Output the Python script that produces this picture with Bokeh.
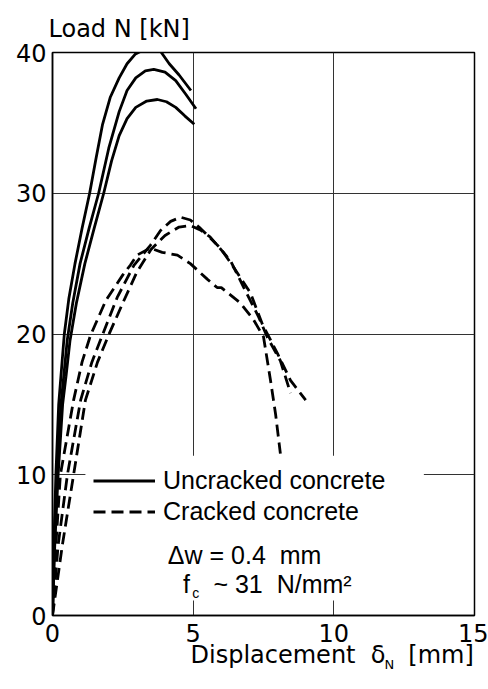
from bokeh.plotting import figure
from bokeh.models import Range1d, FixedTicker, Label, Legend, LegendItem, BoxAnnotation, Title
from bokeh.embed import file_html
from bokeh.resources import INLINE

# ---- data (displacement mm, load kN) ----
unc_top_x = [0, 0.05, 0.12, 0.22, 0.3, 0.42, 0.58, 0.8, 1.05, 1.32, 1.55, 1.78, 2.05, 2.37, 2.65, 2.95, 3.3, 3.55, 3.85, 4.15, 4.5, 4.92]
unc_top_y = [0, 5, 10, 15, 17, 20, 22.5, 25, 27.5, 30, 32.5, 34.9, 36.8, 38.2, 39.2, 39.9, 40.25, 40.3, 40.05, 39.2, 38.4, 37.3]

unc_mid_x = [0, 0.06, 0.16, 0.3, 0.4, 0.52, 0.72, 0.98, 1.3, 1.64, 2.0, 2.37, 2.65, 2.96, 3.3, 3.6, 4.0, 4.38, 4.75, 5.1]
unc_mid_y = [0, 5, 10, 15, 17, 19.5, 22.2, 25, 27.5, 30, 33.2, 35.8, 37.3, 38.2, 38.7, 38.8, 38.6, 38.0, 37.0, 36.0]

unc_bot_x = [0, 0.08, 0.2, 0.36, 0.48, 0.62, 0.85, 1.15, 1.48, 1.82, 2.1, 2.37, 2.65, 2.96, 3.35, 3.73, 4.05, 4.38, 4.7, 5.04]
unc_bot_y = [0, 5, 10, 15, 17, 19.5, 22.2, 25, 27.5, 30, 32.3, 34.1, 35.3, 36.1, 36.55, 36.66, 36.5, 36.1, 35.5, 34.9]

cr_a_x = [0, 0.2, 0.53, 1.0, 1.4, 1.77, 2.3, 2.9, 3.48, 3.84, 4.2, 4.55, 4.9, 5.26, 5.97, 6.45, 7.04, 7.46, 8.0, 8.46, 9.0]
cr_a_y = [0, 5, 10, 15.3, 18.0, 19.9, 22.6, 24.9, 26.3, 27.35, 28.0, 28.3, 28.1, 27.5, 26.1, 24.7, 22.9, 20.7, 18.6, 16.7, 15.3]

cr_b_x = [0, 0.35, 0.75, 1.17, 1.6, 1.99, 2.52, 3.0, 3.5, 4.0, 4.5, 4.9, 5.25, 5.6, 6.33, 6.8, 7.33, 7.63, 8.1, 8.46]
cr_b_y = [0, 5, 10, 15.3, 18.0, 19.9, 22.3, 24.4, 26.0, 27.0, 27.6, 27.7, 27.4, 26.9, 25.2, 23.3, 21.2, 19.8, 18.1, 15.8]

cr_c_x = [0, 0.12, 0.28, 0.75, 1.05, 1.35, 1.9, 2.5, 2.77, 3.0, 3.48, 3.9, 4.44, 4.9, 5.5, 5.85, 6.0, 6.68, 7.15, 7.5, 7.75, 7.93, 8.1]
cr_c_y = [0, 5, 10, 15.3, 18.0, 19.9, 22.4, 24.2, 24.9, 25.6, 26.1, 25.8, 25.6, 25.0, 23.9, 23.3, 23.3, 22.2, 21.0, 19.8, 16.7, 14.3, 11.5]

x_ticks = [0, 5, 10, 15]
y_ticks = [0, 10, 20, 30, 40]
legend_labels = ["Uncracked concrete", "Cracked concrete"]
NB = "\u00a0"
note_lines = ["\u0394w = 0.4" + NB + NB + "mm", "f", "c", "~ 31" + NB + NB + "N/mm\u00b2"]
y_title = "Load N [kN]"
# leading no-break spaces shift the centred label to the right end of the axis
x_title = NB * 18 + "Displacement" + NB + NB + "\u03b4" + NB + NB + NB + "[mm]"
x_title_sub = "N"

AX_FONT = "DejaVu Sans"
LG_FONT = "Liberation Sans"

p = figure(width=488, height=689, x_range=Range1d(0, 15), y_range=Range1d(0, 40),
           output_backend="svg", toolbar_location=None,
           min_border_left=52, min_border_right=14, min_border_top=52, min_border_bottom=74)
p.background_fill_color = "white"
p.border_fill_color = "white"
p.outline_line_color = "black"
p.outline_line_width = 1.5

p.title.text = y_title
p.title.align = "left"
p.title.vertical_align = "top"
p.title.text_font = AX_FONT
p.title.text_font_size = "24px"
p.title.text_font_style = "normal"
p.title.text_color = "black"
p.title.offset = -4
p.title.standoff = 16

for ax in (p.xaxis[0], p.yaxis[0]):
    ax.major_tick_in = 0
    ax.major_tick_out = 0
    ax.minor_tick_in = 0
    ax.minor_tick_out = 0
    ax.axis_line_color = "black"
    ax.axis_line_width = 1.5
    ax.major_label_text_font = AX_FONT
    ax.major_label_text_font_size = "24px"
    ax.major_label_text_color = "black"
p.xaxis.ticker = FixedTicker(ticks=x_ticks)
p.yaxis.ticker = FixedTicker(ticks=y_ticks)
p.xaxis.major_label_standoff = 8
p.yaxis.major_label_standoff = 6

p.xaxis.axis_label = x_title
p.xaxis.axis_label_align = "center"
p.xaxis.axis_label_text_font = AX_FONT
p.xaxis.axis_label_text_font_size = "24px"
p.xaxis.axis_label_text_font_style = "normal"
p.xaxis.axis_label_text_color = "black"
p.xaxis.axis_label_standoff = -4

# subscript "N" of the x axis label
sub = Title(text=x_title_sub, align="left", vertical_align="top", offset=332, standoff=-29,
            text_font=AX_FONT, text_font_size="13px", text_font_style="normal",
            text_color="black")
p.add_layout(sub, "below")

p.xgrid.ticker = FixedTicker(ticks=x_ticks)
p.ygrid.ticker = FixedTicker(ticks=y_ticks)
for g in (p.xgrid[0], p.ygrid[0]):
    g.grid_line_color = "#333333"
    g.grid_line_width = 1

LW = 2.8
r1 = p.line(unc_top_x, unc_top_y, line_color="black", line_width=LW)
p.line(unc_mid_x, unc_mid_y, line_color="black", line_width=LW)
p.line(unc_bot_x, unc_bot_y, line_color="black", line_width=LW)
DASH = "12 6"
r2 = p.line(cr_a_x, cr_a_y, line_color="black", line_width=LW, line_dash=DASH)
p.line(cr_b_x, cr_b_y, line_color="black", line_width=LW, line_dash=DASH)
p.line(cr_c_x, cr_c_y, line_color="black", line_width=LW, line_dash=DASH)

# white area behind the legend block (hides the grid like in the original)
box = BoxAnnotation(left=1.17, right=13.2, bottom=1.07, top=11.35,
                    fill_color="white", fill_alpha=1.0, line_alpha=0)
p.add_layout(box)

legend = Legend(items=[LegendItem(label=legend_labels[0], renderers=[r1]),
                       LegendItem(label=legend_labels[1], renderers=[r2])],
                location=(33, 80), orientation="vertical",
                background_fill_alpha=0, border_line_alpha=0,
                padding=8, margin=0, spacing=0,
                glyph_width=62, glyph_height=31, label_height=31,
                label_standoff=8,
                label_text_font=LG_FONT, label_text_font_size="25px",
                label_text_color="black")
p.add_layout(legend, "center")

def lab(x, y, text, font, size):
    p.add_layout(Label(x=x, y=y, text=text, text_font=font, text_font_size=size,
                       text_color="black", text_align="left", text_baseline="alphabetic"))

lab(4.10, 4.33, note_lines[0], LG_FONT, "25px")
lab(4.64, 2.27, note_lines[1], LG_FONT, "25px")
lab(4.97, 1.60, note_lines[2], LG_FONT, "14px")
lab(5.72, 2.27, note_lines[3], LG_FONT, "25px")

open("out.html", "w").write(file_html(p, INLINE))
